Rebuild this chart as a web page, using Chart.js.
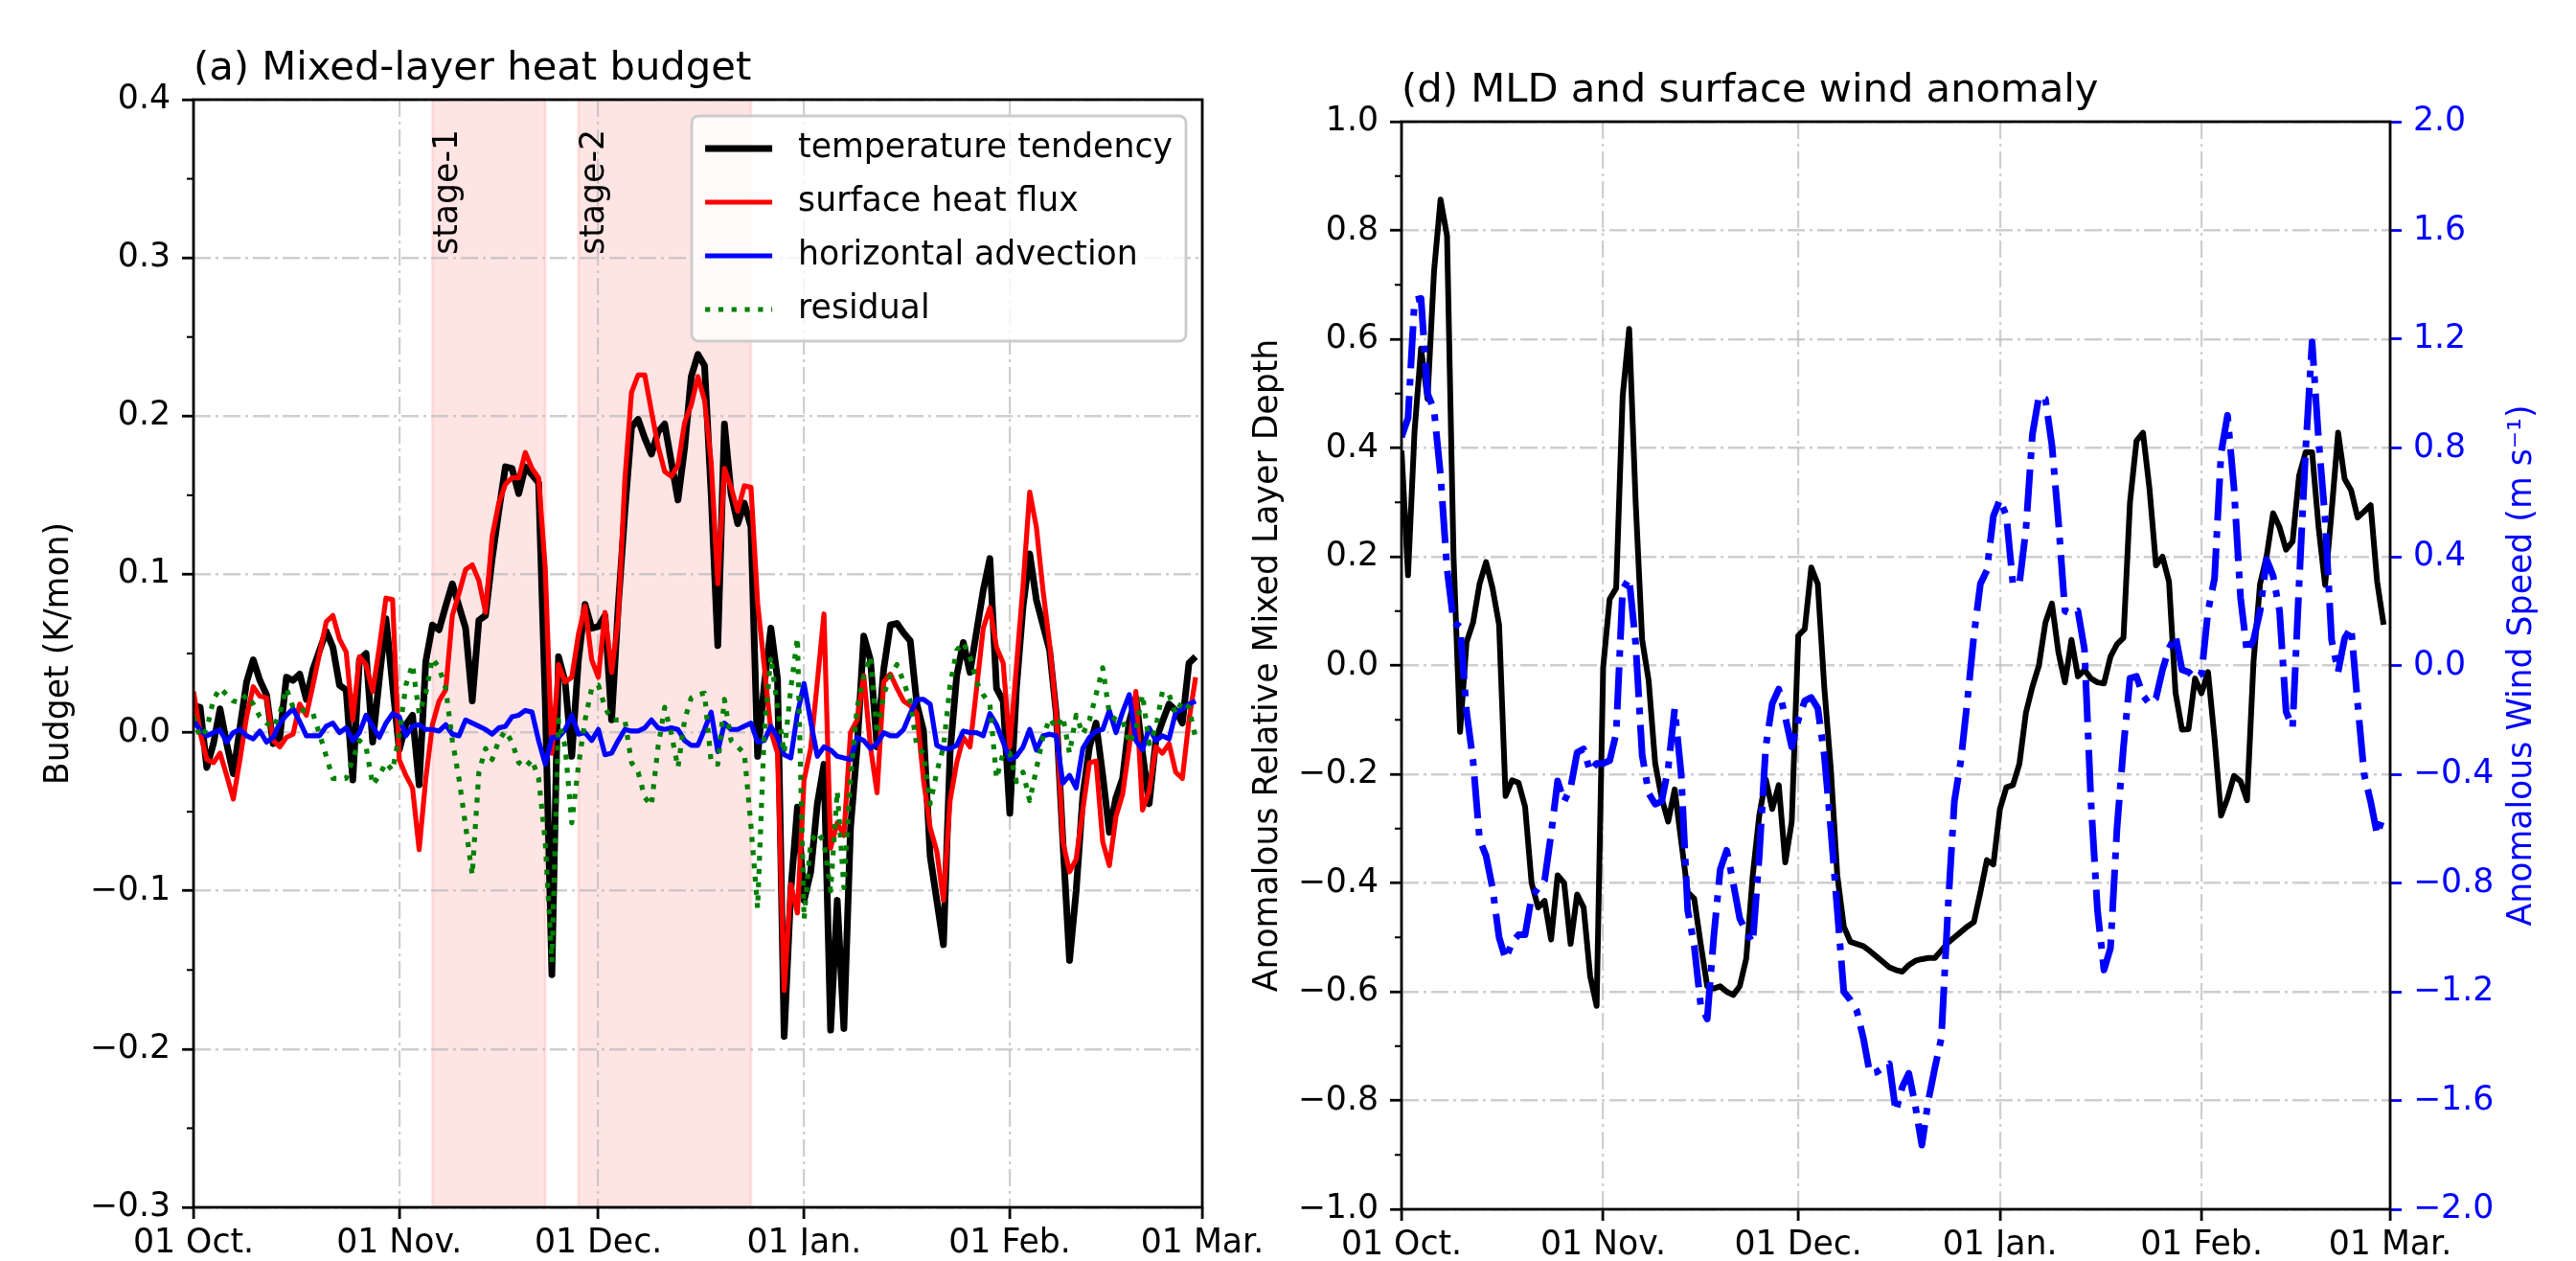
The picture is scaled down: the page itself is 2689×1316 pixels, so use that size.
<!DOCTYPE html>
<html><head><meta charset="utf-8">
<script src="https://cdn.jsdelivr.net/npm/chart.js@4.4.1/dist/chart.umd.min.js"></script>
<style>
html,body{margin:0;padding:0;background:#fff;width:2689px;height:1316px;overflow:hidden;}
#c1{position:absolute;left:0;top:0;width:1340px;height:1316px;}
#c2{position:absolute;left:1280px;top:0;width:1409px;height:1316px;}
</style></head><body>
<canvas id="c1" width="1340" height="1316"></canvas>
<canvas id="c2" width="1409" height="1316"></canvas>
<script>
// ---------- data (daily, 01 Oct .. 29 Feb) ----------
const tendency = [0.017,0.016,-0.022,-0.007,0.015,-0.007,-0.026,0.003,0.032,0.046,
 0.033,0.024,-0.007,-0.003,0.035,0.033,0.037,0.021,0.040,0.052,
 0.064,0.054,0.030,0.027,-0.030,0.046,0.050,-0.006,0.034,0.072,
 0.030,-0.011,0.005,0.011,-0.033,0.045,0.068,0.065,0.080,0.094,
 0.080,0.066,0.020,0.071,0.074,0.110,0.140,0.168,0.167,0.151,
 0.168,0.163,0.158,0.020,-0.153,0.048,0.032,-0.015,0.046,0.081,
 0.066,0.067,0.074,0.008,0.080,0.140,0.193,0.198,0.186,0.176,
 0.190,0.195,0.171,0.147,0.180,0.225,0.239,0.232,0.151,0.055,
 0.195,0.151,0.132,0.145,0.130,-0.015,0.030,0.066,0.034,-0.192,
 -0.100,-0.047,-0.106,-0.088,-0.045,-0.020,-0.188,-0.106,-0.187,-0.060,
 -0.009,0.061,0.046,-0.009,0.040,0.068,0.069,0.063,0.058,0.018,
 0.001,-0.078,-0.106,-0.134,-0.013,0.036,0.057,0.038,0.064,0.090,
 0.110,0.028,0.020,-0.051,0.028,0.080,0.113,0.084,0.068,0.052,
 0.012,-0.069,-0.144,-0.100,-0.040,-0.009,0.006,-0.027,-0.063,-0.041,
 -0.029,0.007,0.022,-0.013,-0.045,-0.005,0.007,0.018,0.014,0.006,
 0.044,0.048];
const heatFlux = [0.026,0.000,-0.017,-0.019,-0.013,-0.027,-0.042,-0.017,0.010,0.029,
 0.023,0.022,-0.005,-0.009,-0.003,-0.001,0.018,0.011,0.030,0.050,
 0.070,0.074,0.059,0.051,0.008,0.048,0.043,0.026,0.054,0.085,
 0.084,-0.017,-0.027,-0.035,-0.074,-0.029,0.005,0.020,0.027,0.074,
 0.088,0.103,0.106,0.096,0.076,0.124,0.145,0.157,0.161,0.161,
 0.177,0.167,0.161,0.104,-0.013,0.043,0.032,0.035,0.062,0.080,
 0.046,0.035,0.076,0.038,0.072,0.160,0.215,0.226,0.226,0.203,
 0.181,0.165,0.162,0.169,0.196,0.207,0.225,0.210,0.171,0.094,
 0.167,0.155,0.140,0.156,0.155,0.082,0.042,0.001,-0.013,-0.163,
 -0.096,-0.114,-0.030,-0.010,0.032,0.075,-0.073,-0.057,-0.065,0.000,
 0.008,0.036,-0.009,-0.038,0.032,0.037,0.028,0.020,0.017,0.012,
 -0.030,-0.060,-0.075,-0.106,-0.043,-0.019,-0.003,-0.009,0.028,0.066,
 0.079,0.054,0.044,-0.009,0.042,0.093,0.152,0.130,0.090,0.056,
 0.012,-0.069,-0.088,-0.080,-0.049,-0.019,-0.018,-0.069,-0.084,-0.053,
 -0.039,-0.009,0.026,-0.049,-0.037,-0.009,-0.013,-0.007,-0.025,-0.029,
 0.008,0.035];
const advection = [0.0075,0.0015,-0.002,0.000,0.0015,-0.006,0.000,0.002,-0.002,-0.004,
 0.001,-0.006,-0.003,0.006,0.011,0.015,0.007,-0.002,-0.002,-0.002,
 0.004,0.006,0.000,0.003,-0.005,0.000,0.011,0.004,-0.003,0.006,
 0.012,0.010,-0.002,0.004,0.005,0.002,0.002,0.001,0.005,-0.001,
 -0.002,0.008,0.006,0.004,0.002,-0.001,0.003,0.004,0.010,0.011,
 0.014,0.013,-0.005,-0.020,-0.003,-0.003,0.002,0.011,-0.001,0.000,
 -0.005,0.002,-0.014,-0.013,-0.005,0.002,0.001,0.001,0.003,0.008,
 0.003,0.002,0.003,0.002,-0.005,-0.008,-0.008,0.002,0.013,-0.012,
 0.006,0.002,0.002,0.004,0.006,-0.006,-0.005,0.004,-0.003,-0.014,
 -0.016,0.012,0.031,0.007,-0.015,-0.009,-0.011,-0.015,-0.016,-0.017,
 -0.003,-0.005,-0.010,-0.007,0.000,-0.002,-0.002,0.002,0.012,0.021,
 0.021,0.018,-0.008,-0.010,-0.010,-0.008,0.001,0.000,0.000,-0.002,
 0.012,0.005,-0.006,-0.017,-0.015,-0.009,0.002,-0.011,-0.002,-0.001,
 -0.002,-0.032,-0.027,-0.035,-0.010,-0.003,0.001,0.002,0.014,0.000,
 0.013,0.024,-0.005,-0.011,0.003,-0.005,-0.002,-0.004,0.013,0.015,
 0.018,0.020];
const residual = [0.010,-0.003,0.002,0.021,0.028,0.024,0.020,0.019,0.024,0.018,
 0.010,0.006,0.003,0.012,0.028,0.016,0.014,0.014,0.012,-0.001,
 -0.015,-0.029,-0.029,-0.029,-0.017,-0.005,-0.009,-0.033,-0.027,-0.019,
 -0.024,-0.001,0.030,0.043,0.012,0.025,0.047,0.041,0.028,-0.005,
 -0.029,-0.059,-0.090,-0.025,-0.010,-0.017,-0.005,0.001,-0.006,-0.019,
 -0.022,-0.017,-0.029,-0.069,-0.145,0.008,-0.009,-0.057,-0.021,0.008,
 0.028,0.030,0.016,0.008,0.008,0.008,-0.019,-0.025,-0.041,-0.046,
 -0.009,0.016,-0.001,-0.022,0.008,0.022,0.024,0.025,-0.019,-0.020,
 0.021,-0.005,-0.009,-0.013,-0.059,-0.111,0.000,0.048,0.016,-0.013,
 0.028,0.060,-0.118,-0.069,-0.063,-0.069,-0.100,-0.037,-0.098,-0.029,
 0.016,0.036,0.048,-0.001,0.024,0.036,0.043,0.032,0.020,-0.009,
 -0.013,-0.045,-0.025,-0.009,0.030,0.052,0.057,0.048,0.032,0.024,
 0.018,-0.029,-0.013,-0.013,-0.031,-0.025,-0.043,-0.023,-0.003,0.009,
 0.003,0.010,-0.013,0.011,-0.001,0.008,0.024,0.041,0.012,0.008,
 0.008,-0.007,0.002,0.024,-0.007,0.003,0.026,0.024,0.012,0.020,
 0.016,-0.004];
const mldAnomaly = [0.395,0.166,0.430,0.583,0.490,0.725,0.857,0.790,0.200,-0.122,
 0.043,0.079,0.150,0.190,0.142,0.075,-0.240,-0.211,-0.216,-0.260,
 -0.400,-0.445,-0.433,-0.504,-0.386,-0.400,-0.512,-0.421,-0.445,-0.571,
 -0.626,-0.004,0.122,0.142,0.495,0.619,0.300,0.047,-0.028,-0.180,
 -0.244,-0.287,-0.228,-0.323,-0.417,-0.429,-0.512,-0.590,-0.594,-0.590,
 -0.600,-0.606,-0.590,-0.539,-0.386,-0.276,-0.209,-0.264,-0.220,-0.362,
 -0.287,0.055,0.067,0.180,0.150,-0.040,-0.190,-0.386,-0.480,-0.508,
 -0.512,-0.516,-0.525,-0.535,-0.545,-0.555,-0.560,-0.563,-0.551,-0.543,
 -0.540,-0.538,-0.538,-0.524,-0.510,-0.500,-0.490,-0.480,-0.472,-0.417,
 -0.358,-0.366,-0.264,-0.224,-0.220,-0.181,-0.087,-0.039,0.000,0.079,
 0.114,0.024,-0.031,0.047,-0.020,-0.008,-0.024,-0.031,-0.033,0.016,
 0.039,0.051,0.300,0.413,0.428,0.325,0.184,0.200,0.154,-0.050,
 -0.118,-0.117,-0.024,-0.051,-0.012,-0.134,-0.276,-0.244,-0.203,-0.213,
 -0.248,0.008,0.150,0.200,0.280,0.254,0.213,0.228,0.349,0.392,
 0.392,0.254,0.148,0.283,0.428,0.343,0.322,0.272,0.283,0.295,
 0.154,0.075];
const windAnomaly = [0.84,0.91,1.345,1.35,1.00,0.94,0.70,0.355,0.16,0.142,
 -0.17,-0.35,-0.64,-0.70,-0.82,-1.00,-1.08,-1.02,-0.99,-0.99,
 -0.85,-0.82,-0.79,-0.62,-0.425,-0.50,-0.45,-0.32,-0.307,-0.39,
 -0.36,-0.36,-0.35,-0.25,0.28,0.32,0.08,-0.33,-0.47,-0.51,
 -0.50,-0.378,-0.16,-0.40,-0.90,-1.03,-1.25,-1.30,-1.00,-0.75,
 -0.68,-0.80,-0.93,-0.98,-1.02,-0.70,-0.30,-0.14,-0.087,-0.19,
 -0.30,-0.20,-0.13,-0.118,-0.157,-0.33,-0.60,-0.90,-1.20,-1.23,
 -1.27,-1.37,-1.50,-1.496,-1.48,-1.465,-1.64,-1.55,-1.50,-1.62,
 -1.764,-1.60,-1.48,-1.37,-0.90,-0.50,-0.35,-0.13,0.11,0.30,
 0.35,0.55,0.61,0.55,0.30,0.30,0.50,0.85,0.99,0.98,
 0.81,0.53,0.20,0.19,0.20,0.06,-0.50,-0.90,-1.12,-1.04,
 -0.60,-0.30,-0.047,-0.04,-0.11,-0.142,-0.12,-0.016,0.063,0.11,
 -0.016,-0.024,-0.047,-0.031,0.20,0.32,0.78,0.92,0.65,0.25,
 0.047,0.094,0.20,0.39,0.33,0.20,-0.17,-0.228,0.30,0.79,
 1.19,0.83,0.54,0.094,-0.024,0.10,0.14,-0.14,-0.40,-0.50,
 -0.622,-0.55];

// day index of each daily value (0 = 01 Oct.)
const dayIndex = Array.from({length: tendency.length}, (_, i) => i);

// axis ticks
const xTickDays = [0, 31, 61, 92, 123, 152];
const xTickLabels = ['01 Oct.', '01 Nov.', '01 Dec.', '01 Jan.', '01 Feb.', '01 Mar.'];
const budgetTickValues = [-0.3, -0.2, -0.1, 0, 0.1, 0.2, 0.3, 0.4];
const budgetTickLabels = ['\u22120.3', '\u22120.2', '\u22120.1', '0.0', '0.1', '0.2', '0.3', '0.4'];
const budgetMinorTicks = [-0.25, -0.15, -0.05, 0.05, 0.15, 0.25, 0.35];
const mldTickValues = [-1, -0.8, -0.6, -0.4, -0.2, 0, 0.2, 0.4, 0.6, 0.8, 1];
const mldTickLabels = ['\u22121.0', '\u22120.8', '\u22120.6', '\u22120.4', '\u22120.2', '0.0', '0.2', '0.4', '0.6', '0.8', '1.0'];
const mldMinorTicks = [-0.9, -0.7, -0.5, -0.3, -0.1, 0.1, 0.3, 0.5, 0.7, 0.9];
const windTickValues = [-2, -1.6, -1.2, -0.8, -0.4, 0, 0.4, 0.8, 1.2, 1.6, 2];
const windTickLabels = ['\u22122.0', '\u22121.6', '\u22121.2', '\u22120.8', '\u22120.4', '0.0', '0.4', '0.8', '1.2', '1.6', '2.0'];

// stages (day index)
const stageNames = ['stage-1', 'stage-2'];
const stageStart = [36, 58];
const stageEnd = [53, 84];

// text
const titleLeft = '(a) Mixed-layer heat budget';
const titleRight = '(d) MLD and surface wind anomaly';
const yLabelLeft = 'Budget (K/mon)';
const yLabelMld = 'Anomalous Relative Mixed Layer Depth';
const yLabelWind = 'Anomalous Wind Speed (m s\u207B\u00B9)';
const legendNames = ['temperature tendency', 'surface heat flux', 'horizontal advection', 'residual'];

// ---------- styling ----------
const FONT = "'DejaVu Sans', sans-serif";
const FS = 34.7;
const TFS = 41.7;
const GRID = 'rgba(185,185,185,0.7)';
const GRID_DASH = [18, 5, 3, 5];

function drawFrame(chart) {
  const {ctx, chartArea: a} = chart;
  ctx.save();
  ctx.strokeStyle = '#000'; ctx.lineWidth = 2.8;
  ctx.strokeRect(a.left, a.top, a.right - a.left, a.bottom - a.top);
  ctx.restore();
}
function drawMinor(chart, id, vals) {
  const s = chart.scales[id], a = chart.chartArea, ctx = chart.ctx;
  ctx.save(); ctx.strokeStyle = '#000'; ctx.lineWidth = 2.1;
  vals.forEach(v => { const y = s.getPixelForValue(v); ctx.beginPath(); ctx.moveTo(a.left, y); ctx.lineTo(a.left - 7, y); ctx.stroke(); });
  ctx.restore();
}
function drawTitle(chart, text) {
  const {ctx, chartArea: a} = chart;
  ctx.save(); ctx.font = TFS + 'px ' + FONT; ctx.fillStyle = '#000';
  ctx.textAlign = 'left'; ctx.textBaseline = 'alphabetic';
  ctx.fillText(text, a.left, a.top - 21);
  ctx.restore();
}

const leftDecor = {
  id: 'leftDecor',
  beforeDraw(chart) {
    const {ctx, chartArea: a, scales: {x}} = chart;
    ctx.save();
    for (let i = 0; i < stageStart.length; i++) {
      const x0 = x.getPixelForValue(stageStart[i]), x1 = x.getPixelForValue(stageEnd[i]);
      ctx.fillStyle = 'rgba(255,0,0,0.105)';
      ctx.fillRect(x0, a.top, x1 - x0, a.bottom - a.top);
      ctx.strokeStyle = 'rgba(255,0,0,0.09)'; ctx.lineWidth = 3;
      ctx.strokeRect(x0, a.top, x1 - x0, a.bottom - a.top);
    }
    ctx.restore();
  },
  afterDatasetsDraw(chart) {
    const {ctx, scales: {x, y}} = chart;
    drawFrame(chart);
    drawMinor(chart, 'y', budgetMinorTicks);
    ctx.save();
    ctx.font = FS + 'px ' + FONT; ctx.fillStyle = '#000';
    ctx.textAlign = 'left'; ctx.textBaseline = 'alphabetic';
    for (let i = 0; i < stageNames.length; i++) {
      const px = x.getPixelForValue(stageStart[i]) + 26;
      const py = y.getPixelForValue(0.302);
      ctx.save(); ctx.translate(px, py); ctx.rotate(-Math.PI / 2);
      ctx.fillText(stageNames[i], 0, 0); ctx.restore();
    }
    ctx.restore();
  },
  afterDraw(chart) {
    const {ctx, chartArea: a} = chart;
    drawTitle(chart, titleLeft);
    // legend (upper right)
    ctx.save();
    ctx.font = FS + 'px ' + FONT;
    const tw = Math.max(...legendNames.map(t => ctx.measureText(t).width));
    const pad = 14, hl = 70, htp = 27, row = 56;
    const w = pad + hl + htp + tw + pad;
    const h = pad * 2 + row * 4 - 17;
    const right = a.right - 17, top = a.top + 17, left = right - w;
    ctx.beginPath();
    ctx.roundRect(left, top, w, h, 7);
    ctx.fillStyle = 'rgba(255,255,255,0.8)'; ctx.fill();
    ctx.strokeStyle = '#cccccc'; ctx.lineWidth = 2.8; ctx.stroke();
    const ds = chart.data.datasets;
    for (let i = 0; i < legendNames.length; i++) {
      const cy = top + pad + 20 + i * row;
      const d = ds[i];
      ctx.save();
      ctx.strokeStyle = d.borderColor; ctx.lineWidth = d.borderWidth;
      ctx.setLineDash(d.borderDash || []); ctx.lineCap = 'butt';
      ctx.beginPath(); ctx.moveTo(left + pad, cy); ctx.lineTo(left + pad + hl, cy); ctx.stroke();
      ctx.restore();
      ctx.fillStyle = '#000'; ctx.textAlign = 'left'; ctx.textBaseline = 'middle';
      ctx.fillText(legendNames[i], left + pad + hl + htp, cy);
    }
    ctx.restore();
  }
};

const rightDecor = {
  id: 'rightDecor',
  afterDatasetsDraw(chart) {
    drawFrame(chart);
    drawMinor(chart, 'y', mldMinorTicks);
  },
  afterDraw(chart) {
    const {ctx, chartArea: a} = chart;
    drawTitle(chart, titleRight);
    ctx.save();
    ctx.font = FS + 'px ' + FONT; ctx.fillStyle = '#0000ff';
    ctx.textAlign = 'center'; ctx.textBaseline = 'middle';
    ctx.translate(a.right + 138, (a.top + a.bottom) / 2);
    ctx.rotate(-Math.PI / 2);
    ctx.fillText(yLabelWind, 0, 0);
    ctx.restore();
  }
};

function xScale() {
  return {
    type: 'linear', min: 0, max: 152,
    afterBuildTicks: s => { s.ticks = xTickDays.map(v => ({value: v})); },
    afterFit: s => { s.height = 50; },
    ticks: {callback: (v, i) => xTickLabels[i], font: {family: FONT, size: FS}, color: '#000', padding: 5, maxRotation: 0, minRotation: 0, autoSkip: false},
    grid: {color: GRID, lineWidth: 2.2, tickColor: '#000', tickWidth: 2.8, tickLength: 12},
    border: {display: false, dash: GRID_DASH}
  };
}
function yScale(vals, labels, title, width) {
  return {
    type: 'linear', position: 'left', min: vals[0], max: vals[vals.length - 1],
    afterBuildTicks: s => { s.ticks = vals.map(v => ({value: v})); },
    afterFit: s => { s.width = width; },
    ticks: {callback: (v, i) => labels[i], font: {family: FONT, size: FS}, color: '#000', padding: 12, autoSkip: false},
    grid: {color: GRID, lineWidth: 2.5, tickColor: '#000', tickWidth: 2.8, tickLength: 12},
    border: {display: false, dash: GRID_DASH},
    title: {display: true, text: title, font: {family: FONT, size: FS}, color: '#000', padding: 0}
  };
}
const common = {
  responsive: false, animation: false, devicePixelRatio: 1,
  elements: {point: {radius: 0}, line: {tension: 0, borderJoinStyle: 'round', borderCapStyle: 'butt'}},
  plugins: {legend: {display: false}, tooltip: {enabled: false}}
};

new Chart(document.getElementById('c1'), {
  type: 'line',
  data: {
    labels: dayIndex,
    datasets: [
      {label: legendNames[0], data: tendency, borderColor: '#000000', borderWidth: 7, order: 4},
      {label: legendNames[1], data: heatFlux, borderColor: '#ff0000', borderWidth: 5.2, order: 3},
      {label: legendNames[2], data: advection, borderColor: '#0000ff', borderWidth: 5.2, order: 2},
      {label: legendNames[3], data: residual, borderColor: '#008000', borderWidth: 5.2, borderDash: [5.2, 8.6], order: 1}
    ]
  },
  options: Object.assign({}, common, {
    layout: {padding: {left: 41, right: 85, top: 104, bottom: 6}},
    scales: {x: xScale(), y: yScale(budgetTickValues, budgetTickLabels, yLabelLeft, 161)}
  }),
  plugins: [leftDecor]
});

const windAxis = {
  type: 'linear', position: 'right', min: -2, max: 2,
  afterBuildTicks: s => { s.ticks = windTickValues.map(v => ({value: v})); },
  afterFit: s => { s.width = 150; },
  ticks: {callback: (v, i) => windTickLabels[i], font: {family: FONT, size: FS}, color: '#0000ff', padding: 12, autoSkip: false},
  grid: {drawOnChartArea: false, color: '#0000ff', tickColor: '#0000ff', tickWidth: 2.8, tickLength: 12},
  border: {display: false}
};

new Chart(document.getElementById('c2'), {
  type: 'line',
  data: {
    labels: dayIndex,
    datasets: [
      {label: 'MLD', data: mldAnomaly, borderColor: '#000000', borderWidth: 6, yAxisID: 'y', order: 2},
      {label: 'wind', data: windAnomaly, borderColor: '#0000ff', borderWidth: 7, borderDash: [44, 11, 7, 11], yAxisID: 'y2', order: 1}
    ]
  },
  options: Object.assign({}, common, {
    layout: {padding: {left: 23, right: 44, top: 127, bottom: 4}},
    scales: {x: xScale(), y: yScale(mldTickValues, mldTickLabels, yLabelMld, 160), y2: windAxis}
  }),
  plugins: [rightDecor]
});
</script>
</body></html>
